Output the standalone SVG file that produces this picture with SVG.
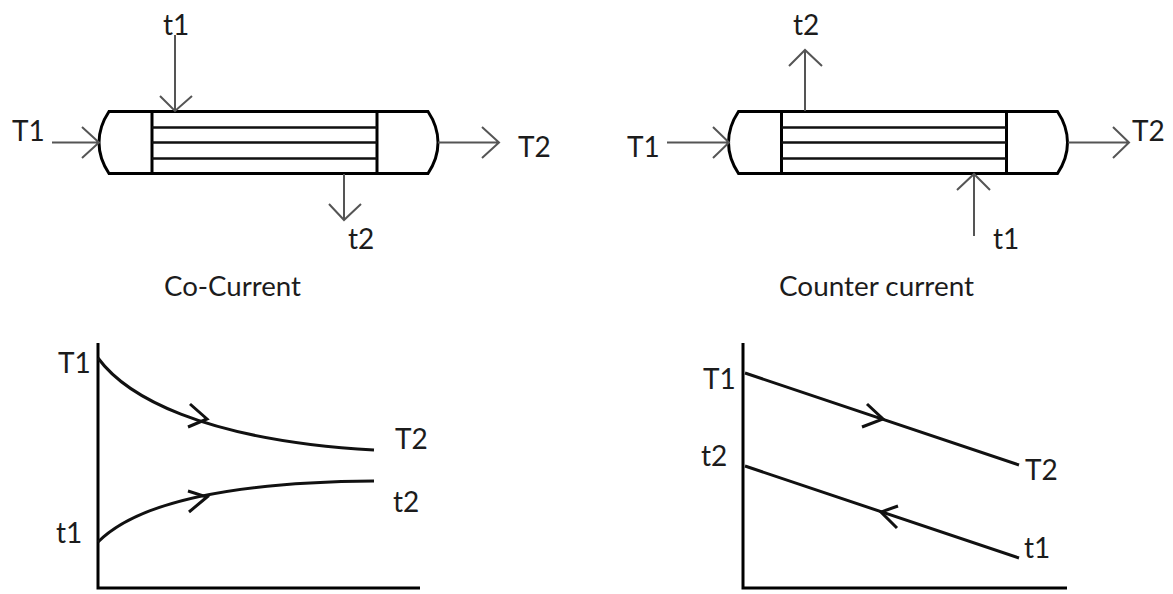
<svg xmlns="http://www.w3.org/2000/svg" width="1173" height="594" viewBox="0 0 1173 594">
<style>
text{font-family:"Lato","Open Sans","Liberation Sans",sans-serif;font-size:28px;fill:#1c1c1c}
.cap{font-size:26px}
.b{fill:none;stroke:#000;stroke-width:3;stroke-linejoin:miter}
.m{fill:none;stroke:#111;stroke-width:2.5}
.a{fill:none;stroke:#555;stroke-width:2}
.c{fill:none;stroke:#111;stroke-width:3}
</style>
<defs>
<g id="hx">
<path class="b" d="M0 0H319Q329 15 329 31Q329 47 319 62H0Q-10 47 -10 31Q-10 15 0 0Z"/>
<path class="b" d="M43 0V62M268 0V62"/>
<path class="m" d="M43 16H268M43 31H268M43 47H268"/>
</g>
</defs>
<rect width="1173" height="594" fill="#fff"/>
<g id="exchanger-co"><use href="#hx" x="109" y="111.500"/></g>
<g id="exchanger-counter"><use href="#hx" x="738.500" y="111.500"/></g>
<g id="connectors">
<path class="a" d="M175 35V111M160 96L175 111L192 96"/>
<path class="a" d="M344 174V220M329 204L344 220L361 204"/>
<path class="a" d="M52 142.500H99M82 127L99 142.500L82 158"/>
<path class="a" d="M438 142.500H499M482 127L499 142.500L482 158"/>
<path class="a" d="M805 111V50M789 66L805 50L822 66"/>
<path class="a" d="M974 236V174M957 190L974 174L990 190"/>
<path class="a" d="M667 142.500H729M713 127L729 142.500L713 158"/>
<path class="a" d="M1068 142.500H1129M1113 127L1129 142.500L1113 158"/>
</g>
<g id="chart-co">
<path class="b" d="M98 343V588H420"/>
<path class="c" d="M98 358C125 395 200 440 374 450"/>
<path class="c" d="M98 542C140 500 240 482 374 481"/>
<path class="c" d="M190 404L207 419L188 427M188 491L207 497L189 512"/>
</g>
<g id="chart-counter">
<path class="b" d="M743 343V588H1067"/>
<path class="c" d="M745 373L1019 465M745 466L1019 558"/>
<path class="c" d="M867 404L883 419L862 427M898 506L881 512L897 528"/>
</g>
<g id="labels">
<text x="163" y="35">t1</text>
<text x="12" y="141">T1</text>
<text x="518" y="157">T2</text>
<text x="348" y="249">t2</text>
<text class="cap" x="164" y="296" textLength="137" lengthAdjust="spacingAndGlyphs">Co-Current</text>
<text x="793" y="35">t2</text>
<text x="627" y="157">T1</text>
<text x="1132" y="141">T2</text>
<text x="993" y="249">t1</text>
<text class="cap" x="779" y="296" textLength="195" lengthAdjust="spacingAndGlyphs">Counter current</text>
<text x="58" y="373">T1</text>
<text x="395" y="449">T2</text>
<text x="393" y="512">t2</text>
<text x="56" y="543">t1</text>
<text x="703" y="389">T1</text>
<text x="701" y="466">t2</text>
<text x="1025" y="480">T2</text>
<text x="1024" y="558">t1</text>
</g>
</svg>
